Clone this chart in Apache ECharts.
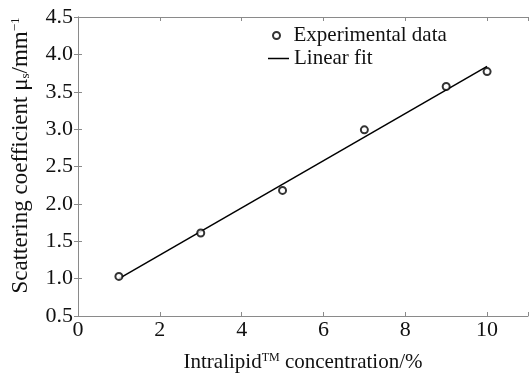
<!DOCTYPE html>
<html>
<head>
<meta charset="utf-8">
<script src="https://cdn.jsdelivr.net/npm/echarts@6/dist/echarts.min.js"></script>
<style>
  html, body { margin: 0; padding: 0; background: #fff; }
  #chart { width: 531px; height: 378px; }
</style>
</head>
<body>
<div id="chart"></div>
<script>
// measured points
var concentration = [1, 3, 5, 7, 9, 10];
var scattering = [1.03, 1.61, 2.18, 2.99, 3.57, 3.77];

// linear fit end points
var fitX = [1, 10];
var fitY = [1.00, 3.84];

var xTicks = [0, 2, 4, 6, 8, 10];

var font = 'Liberation Serif';
var frame = '#8a8a8a';

var pts = concentration.map(function (x, i) { return [x, scattering[i]]; });
var fit = fitX.map(function (x, i) { return [x, fitY[i]]; });

var option = {
    animation: false,
    backgroundColor: '#ffffff',
    grid: { left: 78, top: 17, right: 1, bottom: 58 },
    legend: [
        {
            left: 267, top: 20,
            itemWidth: 24, itemHeight: 7,
            textStyle: { fontFamily: font, fontSize: 21, color: '#111' },
            data: [{ name: 'Experimental data', icon: 'emptyCircle' }]
        },
        {
            left: 263, top: 43,
            itemWidth: 21, itemHeight: 1.5,
            textStyle: { fontFamily: font, fontSize: 21, color: '#111' },
            data: [{ name: 'Linear fit', icon: 'rect' }]
        }
    ],
    xAxis: [
        {
            type: 'value', min: 0, max: 11, interval: 2,
            name: '{a|Intralipid}{sup|TM}{a| concentration/%}',
            nameLocation: 'middle', nameGap: 36,
            nameTextStyle: {
                rich: {
                    a: { fontFamily: font, fontSize: 21, color: '#111' },
                    sup: { fontFamily: font, fontSize: 12, color: '#111', verticalAlign: 'top', padding: [0, 0, 8, 0] }
                }
            },
            axisLine: { lineStyle: { color: frame } },
            axisTick: { inside: true, length: 4, lineStyle: { color: frame } },
            axisLabel: {
                fontFamily: font, fontSize: 22, color: '#111', margin: 3,
                formatter: function (v) { return xTicks.indexOf(v) >= 0 ? String(v) : ''; }
            },
            splitLine: { show: false }
        },
        {
            type: 'value', position: 'top', min: 0, max: 11, interval: 2,
            axisLine: { lineStyle: { color: frame } },
            axisTick: { inside: true, length: 4, lineStyle: { color: frame } },
            axisLabel: { show: false },
            splitLine: { show: false }
        }
    ],
    yAxis: [
        {
            type: 'value', min: 0.5, max: 4.5, interval: 0.5,
            name: '{a|Scattering coefficient μ}{sub|s}{a|/mm}{sup|−1}',
            nameLocation: 'middle', nameGap: 46,
            nameTextStyle: {
                padding: [0, 0, 0, 22],
                rich: {
                    a: { fontFamily: font, fontSize: 23, color: '#111' },
                    sub: { fontFamily: font, fontSize: 13, color: '#111', verticalAlign: 'bottom', padding: [8, 0, 0, 0] },
                    sup: { fontFamily: font, fontSize: 13, color: '#111', verticalAlign: 'top', padding: [0, 0, 8, 0] }
                }
            },
            axisLine: { show: true, lineStyle: { color: frame } },
            axisTick: { show: true, inside: true, length: 4, lineStyle: { color: frame } },
            axisLabel: {
                fontFamily: font, fontSize: 22, color: '#111', margin: 5,
                formatter: function (v) { return v.toFixed(1); }
            },
            splitLine: { show: false }
        },
        {
            type: 'value', position: 'right', min: 0.5, max: 4.5, interval: 0.5,
            axisLine: { show: true, lineStyle: { color: frame } },
            axisTick: { show: true, inside: true, length: 4, lineStyle: { color: frame } },
            axisLabel: { show: false },
            splitLine: { show: false }
        }
    ],
    series: [
        {
            name: 'Linear fit',
            type: 'line',
            data: fit,
            symbol: 'none',
            lineStyle: { color: '#000', width: 1.5 },
            itemStyle: { color: '#000' },
            z: 3
        },
        {
            name: 'Experimental data',
            type: 'scatter',
            data: pts,
            symbol: 'emptyCircle',
            symbolSize: 7,
            itemStyle: { color: '#000', borderWidth: 1.5 },
            z: 4
        }
    ]
};

var myChart = echarts.init(document.getElementById('chart'));
myChart.setOption(option);
</script>
</body>
</html>
